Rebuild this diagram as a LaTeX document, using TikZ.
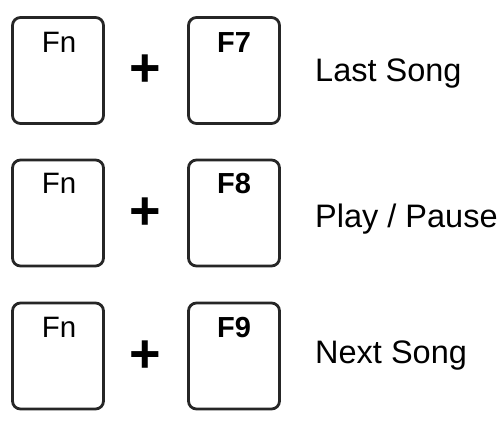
\documentclass[tikz,border=0pt]{standalone}
\usepackage{fontspec}
\setmainfont{Liberation Sans}
\usepackage{tikz}
\usetikzlibrary{positioning}

\begin{document}
\begin{tikzpicture}[
  x=1pt, y=-1pt,
  keycap/.style={draw=black!85, line width=2.8pt, rounded corners=8pt,
                 minimum width=91pt, minimum height=106pt, inner sep=0pt},
  fntext/.style={font=\fontsize{29.5}{31}\selectfont, anchor=base, inner sep=0pt},
  fxtext/.style={font=\fontsize{29}{31}\selectfont\bfseries, anchor=base, inner sep=0pt},
  plussign/.style={font=\fontsize{54}{56}\selectfont\bfseries, inner sep=0pt},
  action/.style={font=\fontsize{32.5}{36}\selectfont, anchor=west, inner sep=0pt}
]
\useasboundingbox (0,0) rectangle (503,421);

% row 1
\node[keycap] (fn1) at (58,70.5) {};
\node[keycap] (fk1) at (234,70.5) {};
\node[fntext] (fn1txt) at (59,52) {Fn};
\node[fxtext] (fk1txt) at (234,52) {F7};
\node[plussign] (plus1) at (145.5,71) {+};
\node[action] (act1) at (315,74) {Last Song};

% row 2
\node[keycap] (fn2) at (58,213) {};
\node[keycap] (fk2) at (234,213) {};
\node[fntext] (fn2txt) at (59,193.5) {Fn};
\node[fxtext] (fk2txt) at (234,193.5) {F8};
\node[plussign] (plus2) at (145.5,214) {+};
\node[action] (act2) at (315,219) {Play / Pause};

% row 3
\node[keycap] (fn3) at (58,356) {};
\node[keycap] (fk3) at (234,356) {};
\node[fntext] (fn3txt) at (59,337) {Fn};
\node[fxtext] (fk3txt) at (234,337) {F9};
\node[plussign] (plus3) at (145.5,357) {+};
\node[action] (act3) at (315,356) {Next Song};
\end{tikzpicture}
\end{document}
